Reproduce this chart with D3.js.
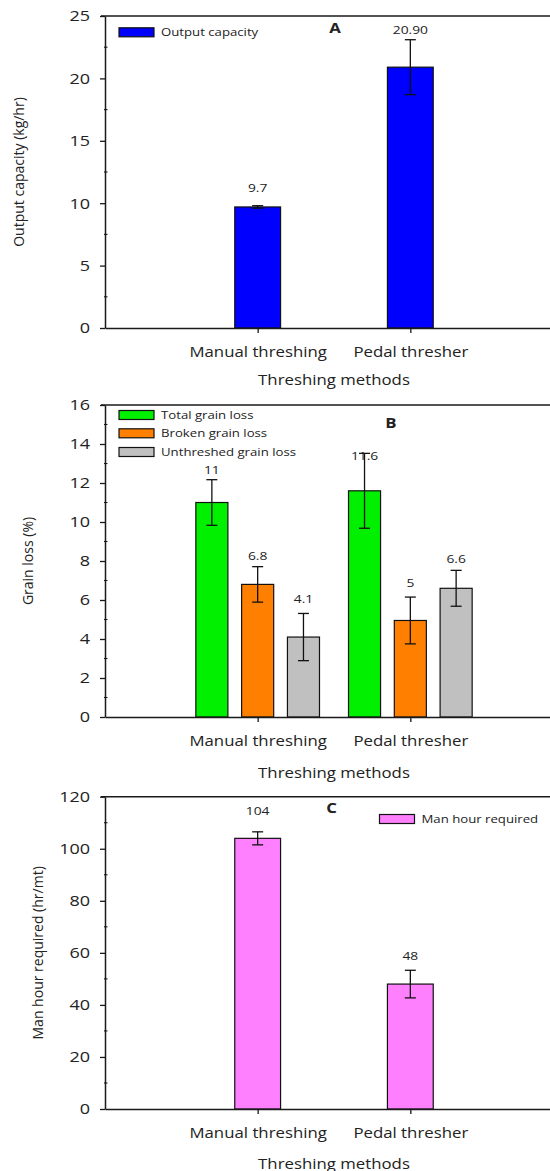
<!DOCTYPE html>
<html>
<head>
<meta charset="utf-8">
<script src="https://cdn.jsdelivr.net/npm/d3@7"></script>
<style>
  body { margin: 0; background: #fff; }
  svg { display: block; }
  text { font-family: 'Open Sans', sans-serif; fill: #222; }
</style>
</head>
<body>
<div id="chart"></div>
<script>
// ---- data ----
var categories = ["Manual threshing", "Pedal thresher"];

// A: output capacity (kg/hr)
var capacity      = [9.7, 20.9];
var capacityErr   = [0.1, 2.2];
var capacityText  = ["9.7", "20.90"];
var capacityTextAt = [10.9, 23.56];   // label baseline, in data units
var ticksA = [0, 5, 10, 15, 20, 25];
var minorA = [2.5, 7.5, 12.5, 17.5, 22.5];

// B: grain loss (%)
var totalLoss       = [11, 11.6];
var totalErr        = [1.17, 1.92];
var totalText       = ["11", "11.6"];
var totalTextAt     = [12.46, 13.2];
var brokenLoss      = [6.8, 4.95];
var brokenErr       = [0.91, 1.2];
var brokenText      = ["6.8", "5"];
var brokenTextAt    = [8.07, 6.68];
var unthreshedLoss  = [4.1, 6.6];
var unthreshedErr   = [1.21, 0.92];
var unthreshedText  = ["4.1", "6.6"];
var unthreshedTextAt = [5.83, 7.91];
var ticksB = [0, 2, 4, 6, 8, 10, 12, 14, 16];
var minorB = [1, 3, 5, 7, 9, 11, 13, 15];

// C: man hour required (hr/mt)
var manHours     = [104, 48];
var manHoursErr  = [2.5, 5.3];
var manHoursText = ["104", "48"];
var manHoursTextAt = [112.9, 57.2];
var ticksC = [0, 20, 40, 60, 80, 100, 120];
var minorC = [10, 30, 50, 70, 90, 110];

// ---- layout ----
var W = 550, H = 1171;
var SX = 1.2;              // the figure's text is stretched sideways
var axisColor = "#1a1a1a";

var panels = [
  { top: 16, bottom: 328, max: 25, ticks: ticksA, minor: minorA,
    yLabel: "Output capacity (kg/hr)", yLabelX: 20, titleGap: 57,
    letter: "A", letterX: 335, letterY: 33,
    legendX: 119, legendY: [32.3],
    series: [
      { name: "Output capacity", color: "#0000ff", values: capacity, err: capacityErr,
        text: capacityText, textAt: capacityTextAt, offset: 0, width: 0.3 }
    ] },
  { top: 405, bottom: 717, max: 16, ticks: ticksB, minor: minorB,
    yLabel: "Grain loss (%)", yLabelX: 29, titleGap: 61,
    letter: "B", letterX: 391, letterY: 428,
    legendX: 119, legendY: [415, 433.3, 452],
    series: [
      { name: "Total grain loss", color: "#00f000", values: totalLoss, err: totalErr,
        text: totalText, textAt: totalTextAt, offset: -0.3, width: 0.21 },
      { name: "Broken grain loss", color: "#ff8000", values: brokenLoss, err: brokenErr,
        text: brokenText, textAt: brokenTextAt, offset: 0, width: 0.21 },
      { name: "Unthreshed grain loss", color: "#c0c0c0", values: unthreshedLoss, err: unthreshedErr,
        text: unthreshedText, textAt: unthreshedTextAt, offset: 0.3, width: 0.21 }
    ] },
  { top: 796.7, bottom: 1109, max: 120, ticks: ticksC, minor: minorC,
    yLabel: "Man hour required (hr/mt)", yLabelX: 39, titleGap: 60,
    letter: "C", letterX: 331.5, letterY: 813,
    legendX: 379.5, legendY: [819],
    series: [
      { name: "Man hour required", color: "#ff80ff", values: manHours, err: manHoursErr,
        text: manHoursText, textAt: manHoursTextAt, offset: 0, width: 0.3 }
    ] }
];

var svg = d3.select("#chart").append("svg")
    .attr("width", W)
    .attr("height", H);

// category index on a linear scale: 0 = y axis, 1 and 2 = the two methods
var x = d3.scaleLinear().domain([0, 3]).range([105, 563]);

// text helper with the horizontal stretch
function stext(g, px, py, str, size, anchor, weight) {
    return g.append("text")
        .attr("transform", "translate(" + px + "," + py + ") scale(" + SX + ",1)")
        .attr("text-anchor", anchor || "middle")
        .style("font-size", size + "px")
        .style("font-weight", weight || "normal")
        .text(str);
}

panels.forEach(function(p) {
    var g = svg.append("g");
    var y = d3.scaleLinear().domain([0, p.max]).range([p.bottom, p.top]);

    // bars
    p.series.forEach(function(s) {
        var bw = x(s.width) - x(0);
        g.selectAll(null)
            .data(s.values)
            .enter().append("rect")
            .attr("x", function(d, i) { return x(i + 1 + s.offset) - bw / 2; })
            .attr("y", function(d) { return y(d); })
            .attr("width", bw)
            .attr("height", function(d) { return y(0) - y(d); })
            .attr("fill", s.color)
            .attr("stroke", "#111")
            .attr("stroke-width", 1.2);

        // error bars
        s.values.forEach(function(v, i) {
            var cx = x(i + 1 + s.offset);
            var eb = g.append("g")
                .attr("stroke", "#111")
                .attr("stroke-width", 1.3);
            eb.append("line")
                .attr("x1", cx).attr("x2", cx)
                .attr("y1", y(v - s.err[i])).attr("y2", y(v + s.err[i]));
            [v - s.err[i], v + s.err[i]].forEach(function(e) {
                eb.append("line")
                    .attr("x1", cx - 5.5).attr("x2", cx + 5.5)
                    .attr("y1", y(e)).attr("y2", y(e));
            });
            // value label
            stext(g, cx, y(s.textAt[i]), s.text[i], 11.5);
        });
    });

    // top frame line
    g.append("line")
        .attr("x1", x(0) - 4).attr("x2", x(3))
        .attr("y1", p.top).attr("y2", p.top)
        .attr("stroke", axisColor).attr("stroke-width", 1.5);

    // y axis
    var ya = g.append("g")
        .attr("transform", "translate(" + x(0) + ",0)")
        .call(d3.axisLeft(y).tickValues(p.ticks).tickSize(5).tickSizeOuter(0));
    ya.select(".domain").attr("stroke", axisColor).attr("stroke-width", 1.5);
    ya.selectAll(".tick line").attr("stroke", axisColor).attr("stroke-width", 1.3);
    ya.selectAll(".tick text")
        .attr("x", -15 / SX)
        .attr("transform", "scale(" + SX + ",1)")
        .style("font-size", "15px")
        .style("font-family", "'Open Sans', sans-serif")
        .attr("fill", "#222");

    // minor ticks
    g.selectAll(null)
        .data(p.minor)
        .enter().append("line")
        .attr("x1", x(0) - 1).attr("x2", x(0) + 2.5)
        .attr("y1", function(d) { return y(d); })
        .attr("y2", function(d) { return y(d); })
        .attr("stroke", axisColor).attr("stroke-width", 1.1);

    // x axis
    var xa = g.append("g")
        .attr("transform", "translate(0," + p.bottom + ")")
        .call(d3.axisBottom(x).tickValues([1, 2])
            .tickFormat(function(d) { return categories[d - 1]; })
            .tickSize(5).tickSizeOuter(0));
    xa.select(".domain").attr("stroke", axisColor).attr("stroke-width", 1.5);
    xa.selectAll(".tick line").attr("stroke", axisColor).attr("stroke-width", 1.3);
    xa.selectAll(".tick text")
        .attr("y", 29.5).attr("dy", 0)
        .attr("transform", "scale(" + SX + ",1)")
        .style("font-size", "14px")
        .style("font-family", "'Open Sans', sans-serif")
        .attr("fill", "#222");

    // x title
    stext(g, (x(1) + x(2)) / 2 + 0, p.bottom + p.titleGap, "Threshing methods", 14);

    // y title
    g.append("text")
        .attr("transform", "translate(" + p.yLabelX + "," + ((p.top + p.bottom) / 2) + ") rotate(-90)")
        .attr("text-anchor", "middle")
        .attr("dominant-baseline", "middle")
        .style("font-size", "14px")
        .text(p.yLabel);

    // panel letter
    stext(g, p.letterX, p.letterY, p.letter, 14, "middle", "bold");

    // legend
    p.series.forEach(function(s, i) {
        var ly = p.legendY[i];
        g.append("rect")
            .attr("x", p.legendX).attr("y", ly - 4.5)
            .attr("width", 35).attr("height", 9)
            .attr("fill", s.color)
            .attr("stroke", "#111").attr("stroke-width", 1.2);
        stext(g, p.legendX + 42, ly + 4, s.name, 11, "start");
    });
});
</script>
</body>
</html>
